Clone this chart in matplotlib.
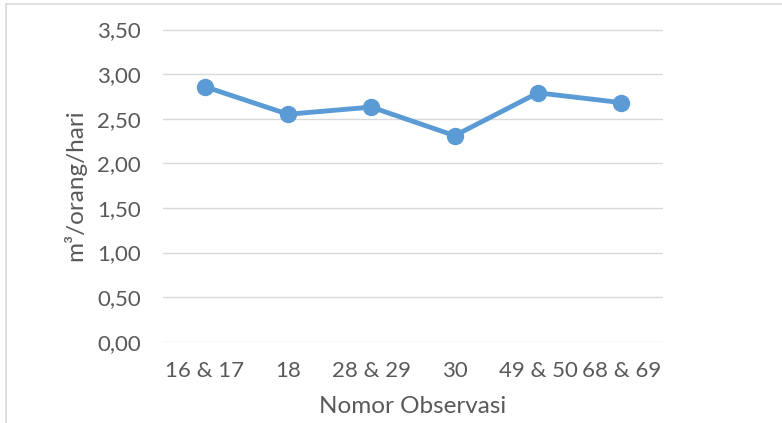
import matplotlib.pyplot as plt
from matplotlib.ticker import FuncFormatter

# data
categories = ['16 & 17', '18', '28 & 29', '30', '49 & 50', '68 & 69']
values = [2.86, 2.55, 2.63, 2.31, 2.79, 2.68]
yticks = [0.0, 0.5, 1.0, 1.5, 2.0, 2.5, 3.0, 3.5]

plt.rcParams['font.family'] = ['Lato', 'DejaVu Sans']
grey = '#595959'

fig = plt.figure(figsize=(7.82, 4.23), dpi=100)
ax = fig.add_axes([163 / 782, 1 - 341.7 / 423, 500 / 782, (341.7 - 29.5) / 423])

x = list(range(len(categories)))
ax.plot(x, values, color='#5B9BD5', lw=3.5, marker='o', ms=11.5, zorder=3)

ax.set_xlim(-0.5, len(categories) - 0.5)
ax.set_ylim(0, 3.5)
ax.set_yticks(yticks)
ax.yaxis.set_major_formatter(FuncFormatter(lambda v, p: f'{v:.2f}'.replace('.', ',')))
ax.set_xticks(x)
ax.set_xticklabels(categories)
ax.grid(axis='y', color='#D9D9D9', lw=1)
ax.set_axisbelow(True)
for s in ax.spines.values():
    s.set_visible(False)
ax.tick_params(length=0, labelsize=16, colors=grey)
ax.tick_params(axis='x', pad=14)
ax.tick_params(axis='y', pad=16)

ax.set_ylabel('m³/orang/hari', fontsize=17.5, color=grey, va='center')
ax.yaxis.set_label_coords(-0.176, 0.5)
ax.set_xlabel('Nomor Observasi', fontsize=17.5, color=grey, va='center')
ax.xaxis.set_label_coords(0.5, -0.206)

# chart frame (only left and top edges visible)
fig.add_artist(plt.Line2D([5.5 / 782, 5.5 / 782], [0, 1 - 4.5 / 423], color='#D9D9D9', lw=1.2))
fig.add_artist(plt.Line2D([5.5 / 782, 1], [1 - 4.5 / 423, 1 - 4.5 / 423], color='#D9D9D9', lw=1.2))

fig.savefig('out.png', dpi=100)
